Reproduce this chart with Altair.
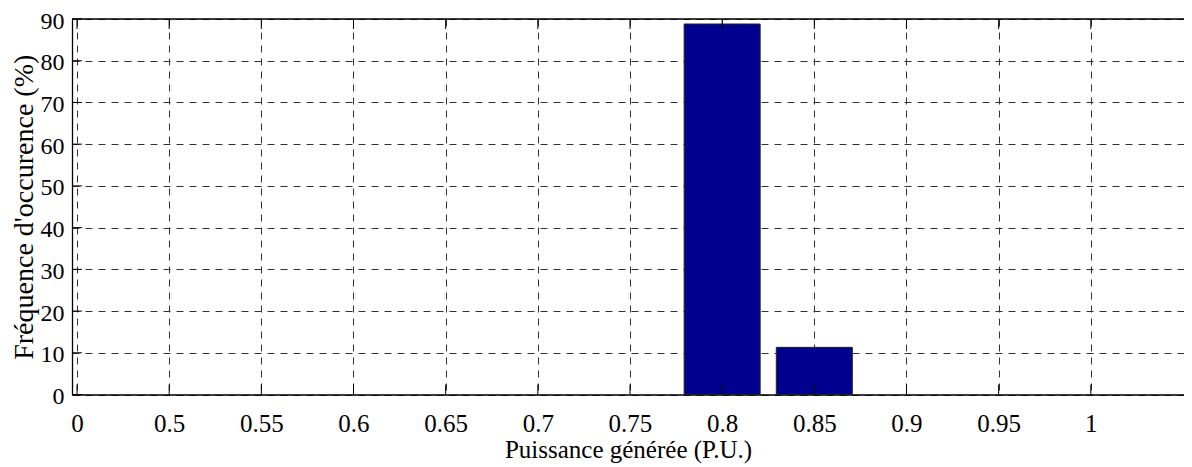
import altair as alt
import pandas as pd

# Data
tick_labels = ["0", "0.5", "0.55", "0.6", "0.65", "0.7", "0.75", "0.8", "0.85", "0.9", "0.95", "1"]
frequency = [0, 0, 0, 0, 0, 0, 0, 88.8, 11.3, 0, 0, 0]
y_ticks = [0, 10, 20, 30, 40, 50, 60, 70, 80, 90]

positions = list(range(len(tick_labels)))
df = pd.DataFrame({"pos": positions, "label": tick_labels, "freq": frequency})
xt = pd.DataFrame({"pos": positions})
yt = pd.DataFrame({"v": y_ticks})

W, H = 1112, 375.5
FONT = "Liberation Serif"
label_expr = "[" + ",".join("'%s'" % t for t in tick_labels) + "][datum.value]"

x_scale = alt.Scale(domain=[0, W / 93.0], nice=False, zero=False)
y_scale = alt.Scale(domain=[0, 90], nice=False)

grid_kw = dict(grid=True, gridColor="#333333", gridDash=[7, 6], gridWidth=1, gridOpacity=1)

bars = alt.Chart(df).transform_filter("datum.freq > 0").mark_bar(
    size=76, color="#00008F", stroke="#222222", strokeWidth=1
).encode(
    x=alt.X("pos:Q", scale=x_scale, title="Puissance générée (P.U.)",
            axis=alt.Axis(values=positions, labelExpr=label_expr, ticks=False,
                          domainColor="black", domainWidth=1.3,
                          labelFontSize=25, labelColor="black",
                          labelPadding=17, labelFlush=False,
                          titleFontSize=25, titleFontWeight="normal",
                          titleColor="black", titlePadding=1, **grid_kw)),
    y=alt.Y("freq:Q", scale=y_scale, title="Fréquence d'occurence (%)",
            axis=alt.Axis(values=y_ticks, ticks=False, domainColor="black", domainWidth=1.3,
                          labelFontSize=24, labelColor="black", labelOffset=2,
                          labelPadding=8, labelFlush=False,
                          titleFontSize=28, titleFontWeight="normal",
                          titleColor="black", titlePadding=2, **grid_kw)),
)

xticks_bottom = alt.Chart(xt).mark_rule(color="black", strokeWidth=1).encode(
    x=alt.X("pos:Q", scale=x_scale), y=alt.value(H), y2=alt.value(H - 10)
)
xticks_top = alt.Chart(xt).mark_rule(color="black", strokeWidth=1).encode(
    x=alt.X("pos:Q", scale=x_scale), y=alt.value(0), y2=alt.value(10)
)
yticks_left = alt.Chart(yt).mark_rule(color="black", strokeWidth=1).encode(
    y=alt.Y("v:Q", scale=y_scale), x=alt.value(0), x2=alt.value(10)
)
top_border = alt.Chart(yt).transform_filter("datum.v == 90").mark_rule(
    color="black", strokeWidth=1.3
).encode(y=alt.Y("v:Q", scale=y_scale), x=alt.value(0), x2=alt.value(W))

chart = alt.layer(bars, xticks_bottom, xticks_top, yticks_left, top_border).properties(
    width=W, height=H,
    autosize=alt.AutoSizeParams(type="none"),
    padding={"left": 64, "top": 11, "right": 0, "bottom": 72},
).configure_view(stroke=None).configure(background="white", font=FONT).configure_axis(
    labelFont=FONT, titleFont=FONT
)

chart.save("out.html", embed_options={"renderer": "svg", "actions": False})
